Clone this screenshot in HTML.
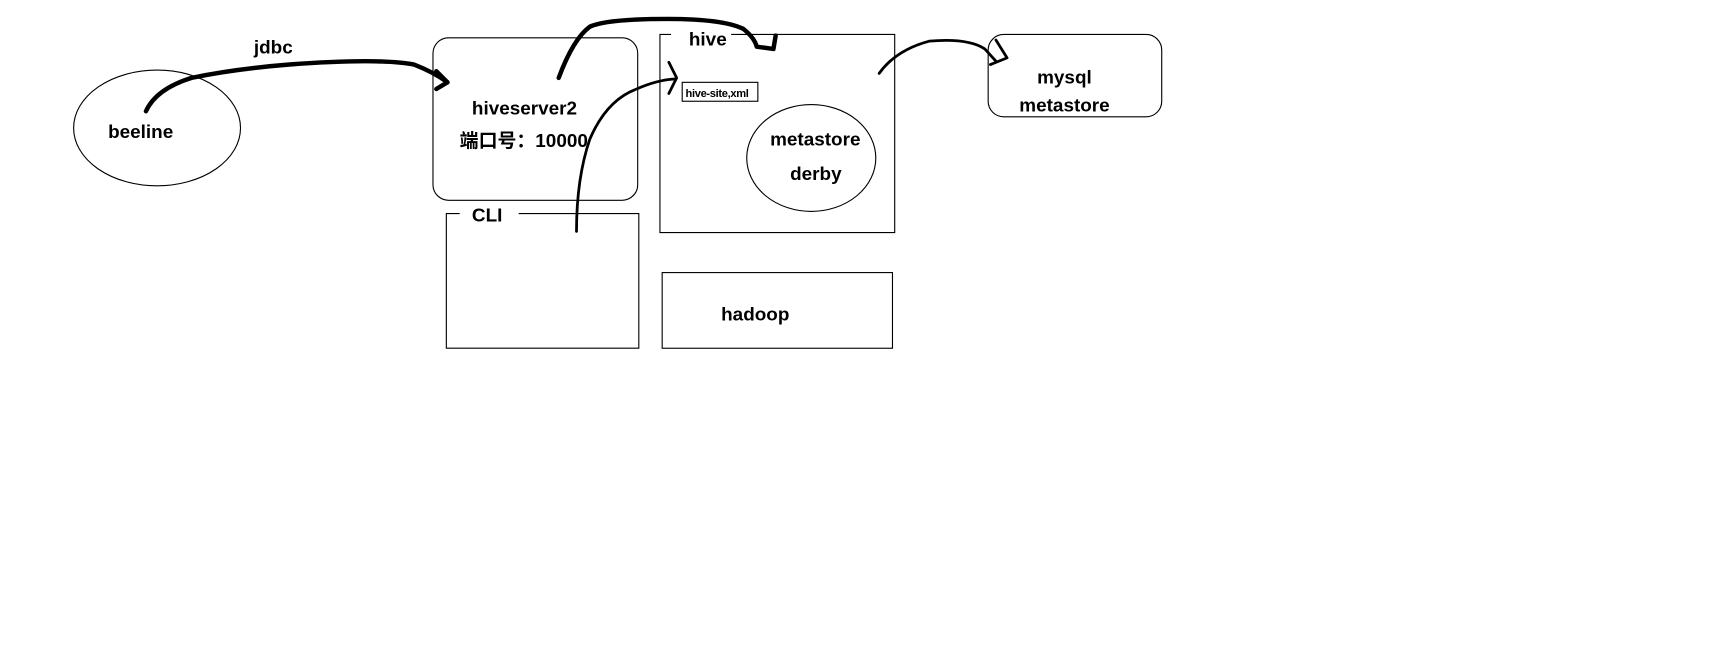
<!DOCTYPE html>
<html><head><meta charset="utf-8"><style>
html,body{margin:0;padding:0;background:#fff;width:1736px;height:672px;overflow:hidden}
svg{display:block}
text{font-family:"Liberation Sans","Noto Sans CJK SC",sans-serif;font-weight:bold;fill:#000}
</style></head><body>
<svg width="1736" height="672" viewBox="0 0 1560 604" xmlns="http://www.w3.org/2000/svg">
<g fill="none" stroke="#000" stroke-width="1">
<ellipse cx="141" cy="115" rx="75" ry="52"/>
<rect x="389" y="34" width="184" height="146" rx="14"/>
<path d="M413 192 H401 V313 H574 V192 H466"/>
<path d="M603 31 H593 V209 H804 V31 H657"/>
<rect x="613" y="74" width="68" height="17"/>
<ellipse cx="729" cy="142" rx="58" ry="48"/>
<rect x="595" y="245" width="207" height="68"/>
<rect x="888" y="31" width="156" height="74" rx="14"/>
</g>
<g fill="none" stroke="#000" stroke-linecap="round" stroke-linejoin="round">
<path d="M131 100 Q140 80 172 70 Q210 62 260 58 Q340 52 372 58 Q390 65 402 74" stroke-width="4"/>
<path d="M392 64 L402 74 L392 80" stroke-width="4"/>
<path d="M502 70 Q515 35 530 24 Q545 17 600 17 Q650 17 668 26 Q678 34 680 42 L695 44 L697 32" stroke-width="4"/>
<path d="M518 208 Q518 160 530 125 Q545 90 572 80 Q590 72 606 71" stroke-width="2.5"/>
<path d="M601 56 L608 70 L601 84" stroke-width="2.5"/>
<path d="M790 66 Q805 45 835 37 Q870 34 885 44 L895 55" stroke-width="2.5"/>
<path d="M895 36 L905 52 L890 58" stroke-width="2.5"/>
</g>
<text x="97" y="124" font-size="17">beeline</text>
<text x="228" y="48" font-size="17">jdbc</text>
<text x="424" y="103" font-size="17">hiveserver2</text>
<text x="413" y="132" font-size="17">端口号：10000</text>
<text x="424" y="199" font-size="17">CLI</text>
<text x="619" y="41" font-size="17">hive</text>
<text x="616" y="87" font-size="10" letter-spacing="-0.3">hive-site,xml</text>
<text x="692" y="131" font-size="17">metastore</text>
<text x="710" y="162" font-size="17">derby</text>
<text x="648" y="288" font-size="17">hadoop</text>
<text x="932" y="75" font-size="17">mysql</text>
<text x="916" y="100" font-size="17">metastore</text>
</svg>
</body></html>
